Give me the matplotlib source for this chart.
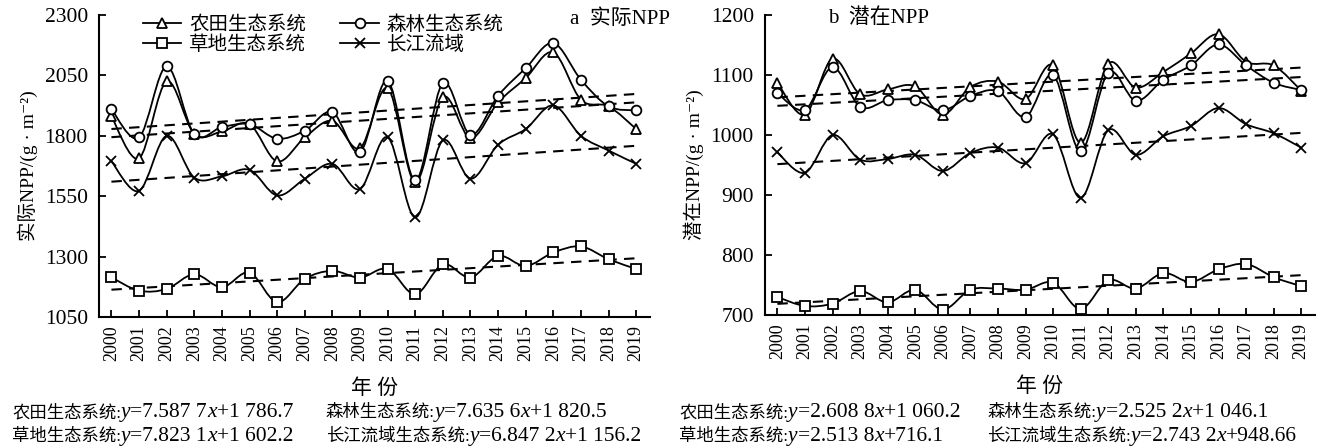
import matplotlib
matplotlib.use('Agg')
import matplotlib.pyplot as plt
from matplotlib.path import Path
from matplotlib.patches import PathPatch
from matplotlib.lines import Line2D

plt.rcParams['font.family'] = ['Liberation Serif', 'Noto Sans CJK SC', 'DejaVu Sans']

years = list(range(2000, 2020))

# actual NPP (g/m2)
act_farm = [1880, 1707, 2025, 1808, 1818, 1848, 1694, 1793, 1862, 1749,
            1997, 1608, 1960, 1790, 1938, 2039, 2145, 1949, 1922, 1828]
act_forest = [1910, 1793, 2087, 1807, 1836, 1848, 1788, 1821, 1898, 1732,
              2028, 1615, 2018, 1804, 1966, 2080, 2184, 2032, 1922, 1905]
act_grass = [1214, 1159, 1166, 1227, 1173, 1234, 1111, 1208, 1241, 1213,
             1249, 1144, 1268, 1213, 1303, 1261, 1317, 1342, 1289, 1249]
act_yangtze = [1694, 1572, 1800, 1627, 1632, 1659, 1553, 1622, 1684, 1580,
               1794, 1462, 1781, 1622, 1763, 1828, 1926, 1800, 1739, 1684]

# potential NPP (g/m2)
pot_farm = [1087, 1034, 1127, 1068, 1076, 1081, 1034, 1080, 1089, 1060,
            1116, 987, 1119, 1079, 1105, 1136, 1168, 1122, 1116, 1074]
pot_forest = [1070, 1042, 1113, 1047, 1058, 1058, 1041, 1065, 1073, 1030,
              1100, 973, 1104, 1057, 1092, 1116, 1151, 1116, 1087, 1075]
pot_grass = [730, 715, 719, 740, 721, 742, 709, 742, 744, 742,
             754, 710, 758, 744, 770, 755, 776, 785, 763, 748]
pot_yangtze = [971, 937, 1000, 959, 960, 967, 940, 970, 979, 953,
               1001, 895, 1008, 967, 998, 1015, 1045, 1018, 1003, 979]

# linear trends (slope, intercept), x = 1..20
act_trend = {'farm': (7.5877, 1786.7), 'forest': (7.6356, 1820.5),
             'grass': (6.8472, 1156.2), 'yangtze': (7.8231, 1602.2)}
pot_trend = {'farm': (2.6088, 1060.2), 'forest': (2.5252, 1046.1),
             'grass': (2.5138, 716.1), 'yangtze': (2.7432, 948.66)}

names = {'farm': '农田生态系统', 'forest': '森林生态系统',
         'grass': '草地生态系统', 'yangtze': '长江流域'}
markers = {'farm': '^', 'forest': 'o', 'grass': 's', 'yangtze': 'x'}

act_eq = [('农田生态系统:', '=7.587 7', '+1 786.7'), ('森林生态系统:', '=7.635 6', '+1 820.5'),
          ('草地生态系统:', '=7.823 1', '+1 602.2'), ('长江流域生态系统:', '=6.847 2', '+1 156.2')]
pot_eq = [('农田生态系统:', '=2.608 8', '+1 060.2'), ('森林生态系统:', '=2.525 2', '+1 046.1'),
          ('草地生态系统:', '=2.513 8', '+716.1'), ('长江流域生态系统:', '=2.743 2', '+948.66')]


def smooth_path(xs, ys):
    # excel-like smoothed line (catmull-rom as cubic bezier)
    pts = list(zip(xs, ys))
    n = len(pts)
    verts = [pts[0]]
    codes = [Path.MOVETO]
    for i in range(n - 1):
        p0 = pts[max(i - 1, 0)]
        p1 = pts[i]
        p2 = pts[i + 1]
        p3 = pts[min(i + 2, n - 1)]
        c1 = (p1[0] + (p2[0] - p0[0]) / 6, p1[1] + (p2[1] - p0[1]) / 6)
        c2 = (p2[0] - (p3[0] - p1[0]) / 6, p2[1] - (p3[1] - p1[1]) / 6)
        verts += [c1, c2, p2]
        codes += [Path.CURVE4] * 3
    return Path(verts, codes)


def draw_panel(ax, series, trend, ylim, yticks, ylabel, title, title_xy):
    for key, vals in series.items():
        ax.add_patch(PathPatch(smooth_path(years, vals), facecolor='none',
                               edgecolor='black', lw=1.3, zorder=3))
        a, b = trend[key]
        tx = [years[0], years[-1]]
        ty = [a * (y - 1999) + b for y in tx]
        ax.plot(tx, ty, color='black', lw=1.5, ls=(0, (5, 3.5)), zorder=2)
        ax.plot(years, vals, ls='none', marker=markers[key], ms=7,
                mfc='white', mec='black', mew=1.3, zorder=4)
    ax.set_xlim(1999.55, 2019.5)
    ax.set_ylim(*ylim)
    ax.set_yticks(yticks)
    ax.set_xticks(years)
    ax.set_xticklabels([str(y) for y in years], rotation=90, fontsize=13)
    ax.tick_params(axis='y', labelsize=15.5, direction='in', length=5, width=1.3, pad=8)
    ax.tick_params(axis='x', direction='in', length=5, width=1.3, pad=6)
    for s in ['top', 'right']:
        ax.spines[s].set_visible(False)
    for s in ['left', 'bottom']:
        ax.spines[s].set_linewidth(1.5)
    ax.set_ylabel(ylabel, fontsize=14, labelpad=5)
    ax.set_xlabel('年 份', fontsize=15, labelpad=13)
    ax.text(*title_xy, title, transform=ax.transAxes, fontsize=15,
            ha='left', va='center')


def equation(fig, renderer, x, y, prefix, coef, const):
    # pieces share one baseline; each starts where the last one ends
    pieces = [(prefix, 'normal', 12.5), ('y', 'italic', 15.5), (coef, 'normal', 15.5),
              ('x', 'italic', 15.5), (const, 'normal', 15.5)]
    for piece, style, size in pieces:
        t = fig.text(x, y, piece, fontsize=size, style=style, ha='left', va='baseline')
        x = t.get_window_extent(renderer).x1 / fig.bbox.width


fig = plt.figure(figsize=(13.24, 4.48), dpi=100)
ax1 = fig.add_axes([99 / 1324, 1 - 317 / 448, 551 / 1324, 302 / 448])
ax2 = fig.add_axes([765 / 1324, 1 - 315 / 448, 550 / 1324, 300 / 448])

draw_panel(ax1, {'farm': act_farm, 'forest': act_forest, 'grass': act_grass, 'yangtze': act_yangtze},
           act_trend, (1050, 2300), [1050, 1300, 1550, 1800, 2050, 2300],
           '实际NPP/(g · m⁻²)', 'a  实际NPP', (0.855, 0.985))
draw_panel(ax2, {'farm': pot_farm, 'forest': pot_forest, 'grass': pot_grass, 'yangtze': pot_yangtze},
           pot_trend, (700, 1200), [700, 800, 900, 1000, 1100, 1200],
           '潜在NPP/(g · m⁻²)', 'b  潜在NPP', (0.115, 0.99))

handles = [Line2D([], [], color='black', lw=1.3, marker=markers[k], ms=7,
                  mfc='white', mec='black', mew=1.3) for k in ['farm', 'grass', 'forest', 'yangtze']]
labels = [names[k] for k in ['farm', 'grass', 'forest', 'yangtze']]
ax1.legend(handles, labels, ncol=2, loc='upper left', bbox_to_anchor=(0.065, 1.025),
           frameon=False, fontsize=14, handlelength=2.0, handletextpad=0.4,
           columnspacing=1.75, labelspacing=0.1, borderaxespad=0)

renderer = fig.canvas.get_renderer()
for i, (pre, coef, const) in enumerate(act_eq):
    col, row = i % 2, i // 2
    equation(fig, renderer, (12 if col == 0 else 326) / 1324, 1 - (417 + row * 24) / 448, pre, coef, const)
for i, (pre, coef, const) in enumerate(pot_eq):
    col, row = i % 2, i // 2
    equation(fig, renderer, (679 if col == 0 else 987) / 1324, 1 - (417 + row * 24) / 448, pre, coef, const)

fig.savefig('out.png', dpi=100)
